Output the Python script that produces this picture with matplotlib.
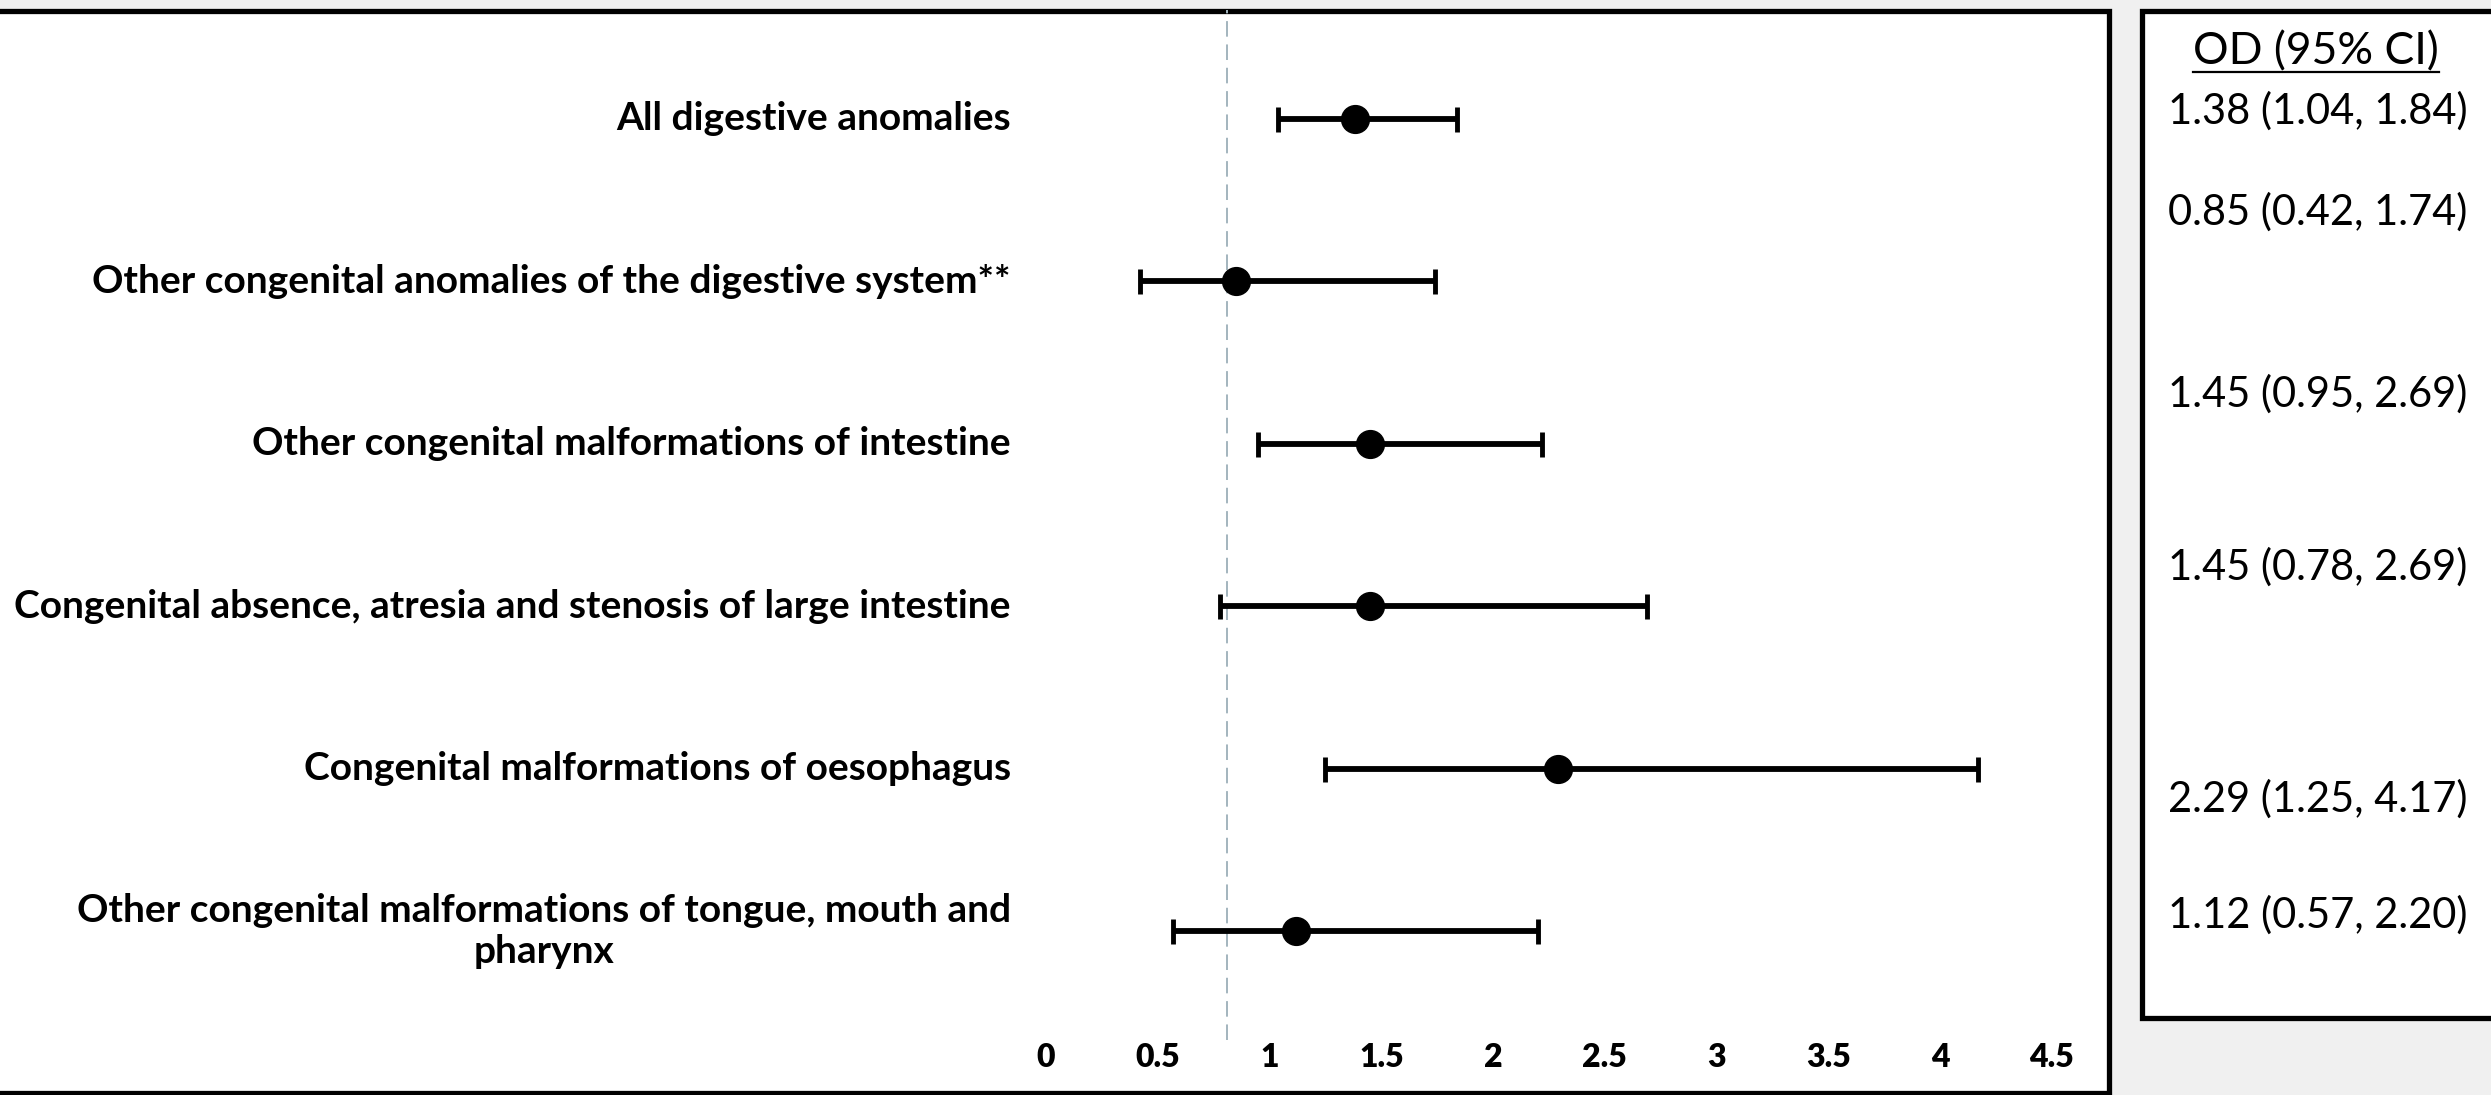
import matplotlib
matplotlib.use("Agg")
import matplotlib.pyplot as plt
from matplotlib.patches import Rectangle
from matplotlib.lines import Line2D

# data (top row first)
labels = [
    "All digestive anomalies",
    "Other congenital anomalies of the digestive system**",
    "Other congenital malformations of intestine",
    "Congenital absence, atresia and stenosis of large intestine",
    "Congenital malformations of oesophagus",
    "Other congenital malformations of tongue, mouth and\npharynx",
]
odds = [1.38, 0.85, 1.45, 1.45, 2.29, 1.12]
lower = [1.04, 0.42, 0.95, 0.78, 1.25, 0.57]
upper = [1.84, 1.74, 2.22, 2.69, 4.17, 2.20]
ref_line = 0.81

table_header = "OD (95% CI)"
table_text = [
    "1.38 (1.04, 1.84)",
    "0.85 (0.42, 1.74)",
    "1.45 (0.95, 2.69)",
    "1.45 (0.78, 2.69)",
    "2.29 (1.25, 4.17)",
    "1.12 (0.57, 2.20)",
]
# vertical centres of the table lines, pixels from the top
table_y = [111, 212, 394, 567, 799, 915]

xticks = [0, 0.5, 1, 1.5, 2, 2.5, 3, 3.5, 4, 4.5]
xtick_labels = ["0", "0.5", "1", "1.5", "2", "2.5", "3", "3.5", "4", "4.5"]

W, H = 2491, 1095
fig = plt.figure(figsize=(W / 100, H / 100), dpi=100)
fig.patch.set_facecolor("#f0f0f0")

def fx(px):
    return px / W

def fy(py):
    return 1 - py / H

# the two framed panels
fig.patches.append(Rectangle((fx(-20), fy(1093)), fx(2109 + 20), fy(11) - fy(1093),
                             transform=fig.transFigure, facecolor="white",
                             edgecolor="black", linewidth=3.8, zorder=-1))
fig.patches.append(Rectangle((fx(2142), fy(1018)), fx(2520 - 2142), fy(11) - fy(1018),
                             transform=fig.transFigure, facecolor="white",
                             edgecolor="black", linewidth=3.8, zorder=-1))

ax = fig.add_axes([fx(1046), fy(1040), fx(2052 - 1046), fy(10) - fy(1040)])
ax.set_facecolor("none")
for s in ax.spines.values():
    s.set_visible(False)

n = len(labels)
ypos = [n - i for i in range(n)]
xerr = [[o - l for o, l in zip(odds, lower)], [u - o for o, u in zip(odds, upper)]]

ax.axvline(ref_line, color="#a3b4be", linewidth=1.4, dashes=(8, 4), zorder=1)
ax.errorbar(odds, ypos, xerr=xerr, fmt="o", color="black", markersize=20,
            elinewidth=4.2, capsize=9, capthick=3.5, zorder=3)

ax.set_xlim(0, 4.5)
ax.set_ylim(0.329, 6.671)
ax.set_xticks(xticks)
ax.set_xticklabels(xtick_labels, fontfamily="Lato", fontweight="heavy", fontsize=23)
ax.tick_params(axis="x", length=0, pad=2)
ax.set_yticks([])

for y, lab in zip(ypos, labels):
    ax.text(-0.0348, y, lab, transform=ax.get_yaxis_transform(), ha="right",
            va="center", multialignment="center", fontfamily="Lato",
            fontweight="bold", fontsize=28)

# table on the right
head = fig.text(fx(2316), fy(52), table_header, ha="center", va="center",
                fontfamily="Lato", fontsize=32)
for y, t in zip(table_y, table_text):
    fig.text(fx(2318), fy(y), t, ha="center", va="center", fontfamily="Lato", fontsize=30)

fig.canvas.draw()
bb = head.get_window_extent().transformed(fig.transFigure.inverted())
fig.lines.append(Line2D([bb.x0, bb.x1], [fy(72), fy(72)], transform=fig.transFigure,
                        color="black", linewidth=1.6))

plt.savefig("out.png", dpi=100, facecolor=fig.get_facecolor())
